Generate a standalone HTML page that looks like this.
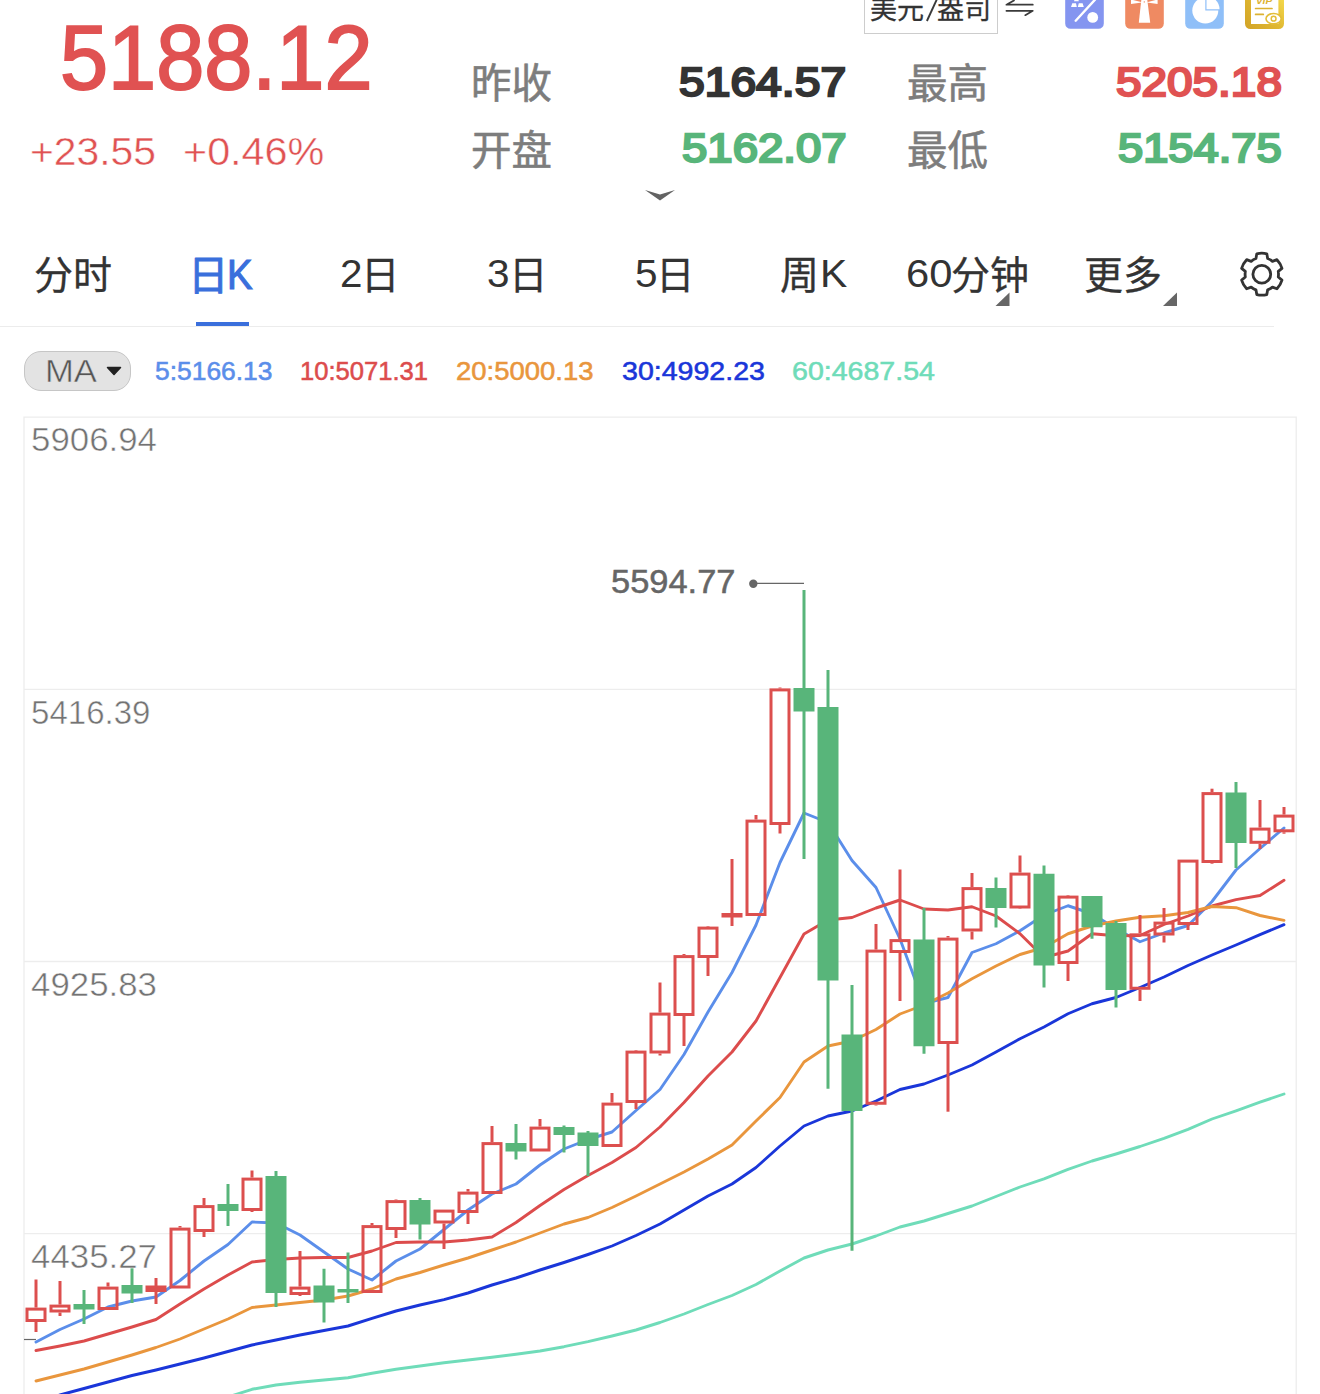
<!DOCTYPE html><html><head><meta charset="utf-8"><title>chart</title><style>
html,body{margin:0;padding:0;background:#fff}
body{width:1320px;height:1394px;overflow:hidden;position:relative;font-family:"Liberation Sans",sans-serif}
.t{position:absolute;white-space:nowrap;line-height:1;transform-origin:0 0}
.c{position:absolute;overflow:visible}
.b{position:absolute}
.k{font-family:"Liberation Sans","Noto Sans CJK SC",sans-serif}
</style></head><body><svg class="c" style="left:0;top:0" width="1320" height="1394" viewBox="0 0 1320 1394"><g stroke="#ededed" stroke-width="1.3" fill="none"><path d="M24 1394V417.2H1296.2V1394"/><path d="M24 689.3H1296"/><path d="M24 961.5H1296"/><path d="M24 1233.7H1296"/></g><path d="M24 1339.5H36" stroke="#666" stroke-width="1.2"/><path d="M36 1342 L60 1329.5 L84 1319 L108 1307 L132 1301 L156 1297 L180 1280.5 L204 1261 L228 1244.5 L252 1222 L276 1223 L300 1235 L324 1252 L348 1269 L372 1280 L396 1261 L420 1249 L444 1229.5 L468 1210 L492 1194 L516 1184 L540 1165 L564 1149 L588 1139.5 L612 1132 L636 1110.5 L660 1089.5 L684 1054.5 L708 1012 L732 972.5 L756 925 L780 862.5 L804 813 L828 822.5 L852 860.5 L876 887.5 L900 939 L924 1003.5 L948 997.5 L972 952.5 L996 943.75 L1020 930.75 L1044 915 L1068 905.75 L1092 913.75 L1116 928.75 L1140 941.75 L1164 933 L1188 925.5 L1212 901.5 L1236 870 L1260 848.5 L1284 828" fill="none" stroke="#5b8eea" stroke-width="2.9" stroke-linejoin="round" stroke-linecap="round"/><path d="M36 1350.5 L60 1346 L84 1341 L108 1334 L132 1327 L156 1319.5 L180 1304 L204 1289 L228 1275 L252 1262 L276 1259.5 L300 1258 L324 1257.5 L348 1257.5 L372 1251 L396 1242.5 L420 1242 L444 1242 L468 1240 L492 1237 L516 1222.5 L540 1205.5 L564 1189.5 L588 1175.5 L612 1162.5 L636 1147.5 L660 1127 L684 1102.5 L708 1076 L732 1052 L756 1021 L780 977.5 L804 934 L828 920 L852 917.5 L876 908 L900 900 L924 909 L948 910 L972 906.75 L996 916 L1020 933.75 L1044 957.5 L1068 951 L1092 933.75 L1116 935.75 L1140 935.5 L1164 924.5 L1188 916 L1212 906 L1236 899.6 L1260 895.5 L1284 880.3" fill="none" stroke="#dc4c4c" stroke-width="2.9" stroke-linejoin="round" stroke-linecap="round"/><path d="M36 1381 L60 1375 L84 1369 L108 1362 L132 1355 L156 1347.5 L180 1339 L204 1329 L228 1319 L252 1307.5 L276 1305 L300 1302.5 L324 1300 L348 1296 L372 1289 L396 1279 L420 1272.5 L444 1265 L468 1258 L492 1250 L516 1242 L540 1233 L564 1224 L588 1217.5 L612 1207.5 L636 1196 L660 1184 L684 1172 L708 1159 L732 1145 L756 1121 L780 1097.5 L804 1062 L828 1046 L852 1041 L876 1029.5 L900 1014 L924 1005 L948 993 L972 978.75 L996 966 L1020 954.5 L1044 947.5 L1068 933.75 L1092 926 L1116 921 L1140 917.3 L1164 915.8 L1188 912.5 L1212 906.5 L1236 907.7 L1260 915.5 L1284 920.3" fill="none" stroke="#e9963d" stroke-width="2.9" stroke-linejoin="round" stroke-linecap="round"/><path d="M36 1402 L60 1395 L84 1388.5 L108 1382 L132 1375.5 L156 1370 L180 1364 L204 1358 L228 1351.5 L252 1345 L276 1340 L300 1335 L324 1330.5 L348 1326 L372 1318.3 L396 1311 L420 1305 L444 1299.7 L468 1293 L492 1285 L516 1278 L540 1270 L564 1262.5 L588 1254.5 L612 1246 L636 1235.5 L660 1224 L684 1210 L708 1196 L732 1184 L756 1167.5 L780 1146 L804 1126 L828 1116 L852 1111 L876 1101 L900 1089.5 L924 1084 L948 1075 L972 1065 L996 1052 L1020 1038.75 L1044 1027 L1068 1013.75 L1092 1003.75 L1116 997.5 L1140 987.5 L1164 977 L1188 965.5 L1212 955 L1236 945 L1260 934.6 L1284 924.7" fill="none" stroke="#1a36d9" stroke-width="2.9" stroke-linejoin="round" stroke-linecap="round"/><path d="M204 1403 L228 1397 L252 1389.3 L276 1385 L300 1382.3 L324 1380 L348 1377.7 L372 1373.3 L396 1369.3 L420 1366 L444 1362.7 L468 1360 L492 1357.3 L516 1354.3 L540 1351 L564 1346.7 L588 1341.7 L612 1336 L636 1330 L660 1322.5 L684 1314 L708 1304.5 L732 1295.5 L756 1284.5 L780 1271 L804 1258 L828 1250 L852 1244 L876 1236 L900 1227 L924 1221 L948 1213.5 L972 1206 L996 1196.5 L1020 1187 L1044 1178.8 L1068 1169.3 L1092 1161 L1116 1154 L1140 1146.5 L1164 1138.3 L1188 1129.4 L1212 1119 L1236 1110.8 L1260 1102.2 L1284 1094" fill="none" stroke="#6fdcb9" stroke-width="2.9" stroke-linejoin="round" stroke-linecap="round"/><path d="M36 1279.5V1307.6" stroke="#dc4f4e" stroke-width="3"/><path d="M36 1322.0V1332" stroke="#dc4f4e" stroke-width="3"/><rect x="27" y="1309.1" width="18" height="11.400000000000091" fill="none" stroke="#dc4f4e" stroke-width="3"/><path d="M60 1281V1304.6" stroke="#dc4f4e" stroke-width="3"/><path d="M60 1312.5V1316" stroke="#dc4f4e" stroke-width="3"/><rect x="51" y="1306.1" width="18" height="4.900000000000091" fill="none" stroke="#dc4f4e" stroke-width="3"/><path d="M84 1290V1324" stroke="#58b57a" stroke-width="3"/><rect x="73.5" y="1304" width="21" height="5.5" fill="#58b57a"/><path d="M108 1282.5V1286.6" stroke="#dc4f4e" stroke-width="3"/><rect x="99" y="1288.1" width="18" height="20.40000000000009" fill="none" stroke="#dc4f4e" stroke-width="3"/><path d="M132 1268V1303" stroke="#58b57a" stroke-width="3"/><rect x="121.5" y="1285" width="21" height="8.5" fill="#58b57a"/><path d="M156 1278V1304" stroke="#dc4f4e" stroke-width="3"/><rect x="145.5" y="1285.5" width="21" height="6.5" fill="#dc4f4e"/><path d="M180 1226V1227.6" stroke="#dc4f4e" stroke-width="3"/><rect x="171" y="1229.1" width="18" height="57.90000000000009" fill="none" stroke="#dc4f4e" stroke-width="3"/><path d="M204 1198V1205.1" stroke="#dc4f4e" stroke-width="3"/><path d="M204 1232.0V1237" stroke="#dc4f4e" stroke-width="3"/><rect x="195" y="1206.6" width="18" height="23.90000000000009" fill="none" stroke="#dc4f4e" stroke-width="3"/><path d="M228 1184V1226" stroke="#58b57a" stroke-width="3"/><rect x="217.5" y="1204" width="21" height="7.0" fill="#58b57a"/><path d="M252 1170.5V1177.6" stroke="#dc4f4e" stroke-width="3"/><path d="M252 1211.0V1212" stroke="#dc4f4e" stroke-width="3"/><rect x="243" y="1179.1" width="18" height="30.40000000000009" fill="none" stroke="#dc4f4e" stroke-width="3"/><path d="M276 1171V1307" stroke="#58b57a" stroke-width="3"/><rect x="265.5" y="1176" width="21" height="117.0" fill="#58b57a"/><path d="M300 1251V1286.6" stroke="#dc4f4e" stroke-width="3"/><path d="M300 1295.0V1296" stroke="#dc4f4e" stroke-width="3"/><rect x="291" y="1288.1" width="18" height="5.400000000000091" fill="none" stroke="#dc4f4e" stroke-width="3"/><path d="M324 1268.75V1322.5" stroke="#58b57a" stroke-width="3"/><rect x="313.5" y="1285.5" width="21" height="17.0" fill="#58b57a"/><path d="M348 1252.5V1303" stroke="#58b57a" stroke-width="3"/><rect x="337.5" y="1289" width="21" height="3.5" fill="#58b57a"/><path d="M372 1223V1225.1" stroke="#dc4f4e" stroke-width="3"/><rect x="363" y="1226.6" width="18" height="64.90000000000009" fill="none" stroke="#dc4f4e" stroke-width="3"/><path d="M396 1199.5V1200.1" stroke="#dc4f4e" stroke-width="3"/><path d="M396 1230.0V1238" stroke="#dc4f4e" stroke-width="3"/><rect x="387" y="1201.6" width="18" height="26.90000000000009" fill="none" stroke="#dc4f4e" stroke-width="3"/><path d="M420 1198V1239.5" stroke="#58b57a" stroke-width="3"/><rect x="409.5" y="1200" width="21" height="24.5" fill="#58b57a"/><path d="M444 1223.5V1249" stroke="#dc4f4e" stroke-width="3"/><rect x="435" y="1211.1" width="18" height="10.900000000000091" fill="none" stroke="#dc4f4e" stroke-width="3"/><path d="M468 1189V1191.6" stroke="#dc4f4e" stroke-width="3"/><path d="M468 1213.0V1224" stroke="#dc4f4e" stroke-width="3"/><rect x="459" y="1193.1" width="18" height="18.40000000000009" fill="none" stroke="#dc4f4e" stroke-width="3"/><path d="M492 1126V1142.1" stroke="#dc4f4e" stroke-width="3"/><rect x="483" y="1143.6" width="18" height="48.90000000000009" fill="none" stroke="#dc4f4e" stroke-width="3"/><path d="M516 1124V1159.5" stroke="#58b57a" stroke-width="3"/><rect x="505.5" y="1143" width="21" height="8.5" fill="#58b57a"/><path d="M540 1119V1126.6" stroke="#dc4f4e" stroke-width="3"/><rect x="531" y="1128.1" width="18" height="21.90000000000009" fill="none" stroke="#dc4f4e" stroke-width="3"/><path d="M564 1125.5V1152.5" stroke="#58b57a" stroke-width="3"/><rect x="553.5" y="1127" width="21" height="8.0" fill="#58b57a"/><path d="M588 1131V1176" stroke="#58b57a" stroke-width="3"/><rect x="577.5" y="1132.5" width="21" height="13.5" fill="#58b57a"/><path d="M612 1093V1102.6" stroke="#dc4f4e" stroke-width="3"/><rect x="603" y="1104.1" width="18" height="41.40000000000009" fill="none" stroke="#dc4f4e" stroke-width="3"/><path d="M636 1050V1050.6" stroke="#dc4f4e" stroke-width="3"/><path d="M636 1103.0V1109" stroke="#dc4f4e" stroke-width="3"/><rect x="627" y="1052.1" width="18" height="49.40000000000009" fill="none" stroke="#dc4f4e" stroke-width="3"/><path d="M660 982.5V1012.6" stroke="#dc4f4e" stroke-width="3"/><path d="M660 1053.5V1055.5" stroke="#dc4f4e" stroke-width="3"/><rect x="651" y="1014.1" width="18" height="37.89999999999998" fill="none" stroke="#dc4f4e" stroke-width="3"/><path d="M684 954V955.1" stroke="#dc4f4e" stroke-width="3"/><path d="M684 1016.0V1046" stroke="#dc4f4e" stroke-width="3"/><rect x="675" y="956.6" width="18" height="57.89999999999998" fill="none" stroke="#dc4f4e" stroke-width="3"/><path d="M708 926V926.6" stroke="#dc4f4e" stroke-width="3"/><path d="M708 958.0V976" stroke="#dc4f4e" stroke-width="3"/><rect x="699" y="928.1" width="18" height="28.399999999999977" fill="none" stroke="#dc4f4e" stroke-width="3"/><path d="M732 859V926" stroke="#dc4f4e" stroke-width="3"/><rect x="721.5" y="913" width="21" height="4.5" fill="#dc4f4e"/><path d="M756 815V819.6" stroke="#dc4f4e" stroke-width="3"/><rect x="747" y="821.1" width="18" height="93.39999999999998" fill="none" stroke="#dc4f4e" stroke-width="3"/><path d="M780 687.5V688.4" stroke="#dc4f4e" stroke-width="3"/><path d="M780 825.0V833.5" stroke="#dc4f4e" stroke-width="3"/><rect x="771" y="689.9" width="18" height="133.60000000000002" fill="none" stroke="#dc4f4e" stroke-width="3"/><path d="M804 590V859" stroke="#58b57a" stroke-width="3"/><rect x="793.5" y="688" width="21" height="23.5" fill="#58b57a"/><path d="M828 670V1088.75" stroke="#58b57a" stroke-width="3"/><rect x="817.5" y="707" width="21" height="273.5" fill="#58b57a"/><path d="M852 985V1250.75" stroke="#58b57a" stroke-width="3"/><rect x="841.5" y="1034.5" width="21" height="76.5" fill="#58b57a"/><path d="M876 924V949.6" stroke="#dc4f4e" stroke-width="3"/><path d="M876 1104.75V1105.5" stroke="#dc4f4e" stroke-width="3"/><rect x="867" y="951.1" width="18" height="152.14999999999998" fill="none" stroke="#dc4f4e" stroke-width="3"/><path d="M900 869.5V939.1" stroke="#dc4f4e" stroke-width="3"/><path d="M900 953.0V1001" stroke="#dc4f4e" stroke-width="3"/><rect x="891" y="940.6" width="18" height="10.899999999999977" fill="none" stroke="#dc4f4e" stroke-width="3"/><path d="M924 908V1053.75" stroke="#58b57a" stroke-width="3"/><rect x="913.5" y="939.5" width="21" height="106.75" fill="#58b57a"/><path d="M948 936V937.6" stroke="#dc4f4e" stroke-width="3"/><path d="M948 1044.0V1111.7" stroke="#dc4f4e" stroke-width="3"/><rect x="939" y="939.1" width="18" height="103.39999999999998" fill="none" stroke="#dc4f4e" stroke-width="3"/><path d="M972 873V887.1" stroke="#dc4f4e" stroke-width="3"/><path d="M972 931.5V939.5" stroke="#dc4f4e" stroke-width="3"/><rect x="963" y="888.6" width="18" height="41.39999999999998" fill="none" stroke="#dc4f4e" stroke-width="3"/><path d="M996 877.5V927.5" stroke="#58b57a" stroke-width="3"/><rect x="985.5" y="888" width="21" height="20.0" fill="#58b57a"/><path d="M1020 855.5V872.6" stroke="#dc4f4e" stroke-width="3"/><path d="M1020 908.5V909" stroke="#dc4f4e" stroke-width="3"/><rect x="1011" y="874.1" width="18" height="32.89999999999998" fill="none" stroke="#dc4f4e" stroke-width="3"/><path d="M1044 865.5V987.5" stroke="#58b57a" stroke-width="3"/><rect x="1033.5" y="873.75" width="21" height="91.75" fill="#58b57a"/><path d="M1068 895V895.6" stroke="#dc4f4e" stroke-width="3"/><path d="M1068 964.0V981" stroke="#dc4f4e" stroke-width="3"/><rect x="1059" y="897.1" width="18" height="65.39999999999998" fill="none" stroke="#dc4f4e" stroke-width="3"/><path d="M1092 896V938.75" stroke="#58b57a" stroke-width="3"/><rect x="1081.5" y="896" width="21" height="31.25" fill="#58b57a"/><path d="M1116 921V1007.5" stroke="#58b57a" stroke-width="3"/><rect x="1105.5" y="923" width="21" height="67.0" fill="#58b57a"/><path d="M1140 915V933.35" stroke="#dc4f4e" stroke-width="3"/><path d="M1140 989.75V1001" stroke="#dc4f4e" stroke-width="3"/><rect x="1131" y="934.85" width="18" height="53.39999999999998" fill="none" stroke="#dc4f4e" stroke-width="3"/><path d="M1164 908V921.6" stroke="#dc4f4e" stroke-width="3"/><path d="M1164 935.5V942.5" stroke="#dc4f4e" stroke-width="3"/><rect x="1155" y="923.1" width="18" height="10.899999999999977" fill="none" stroke="#dc4f4e" stroke-width="3"/><path d="M1188 925.0V930" stroke="#dc4f4e" stroke-width="3"/><rect x="1179" y="861.1" width="18" height="62.39999999999998" fill="none" stroke="#dc4f4e" stroke-width="3"/><path d="M1212 788.7V792.1" stroke="#dc4f4e" stroke-width="3"/><path d="M1212 863.0V863.7" stroke="#dc4f4e" stroke-width="3"/><rect x="1203" y="793.6" width="18" height="67.89999999999998" fill="none" stroke="#dc4f4e" stroke-width="3"/><path d="M1236 782V868" stroke="#58b57a" stroke-width="3"/><rect x="1225.5" y="792.5" width="21" height="50.5" fill="#58b57a"/><path d="M1260 800V827.6" stroke="#dc4f4e" stroke-width="3"/><path d="M1260 843.8V849" stroke="#dc4f4e" stroke-width="3"/><rect x="1251" y="829.1" width="18" height="13.199999999999932" fill="none" stroke="#dc4f4e" stroke-width="3"/><path d="M1284 807V814.6" stroke="#dc4f4e" stroke-width="3"/><path d="M1284 832.3V833.7" stroke="#dc4f4e" stroke-width="3"/><rect x="1275" y="816.1" width="18" height="14.699999999999932" fill="none" stroke="#dc4f4e" stroke-width="3"/><circle cx="753.3" cy="583.7" r="4.2" fill="#666"/><path d="M753 583.4H804" stroke="#666" stroke-width="1.2"/></svg><div class="t" style="left:60.44px;top:12.41px;font-size:91.29px;color:#e05252;transform:scaleX(0.947);-webkit-text-stroke:2.0px #e05252">5188.12</div><div class="t" style="left:29.80px;top:132.63px;font-size:38.83px;color:#e05252;transform:scaleX(1.0514);-webkit-text-stroke:0.45px #fff;">+23.55</div><div class="t" style="left:182.60px;top:132.63px;font-size:38.83px;color:#e05252;transform:scaleX(1.0643);-webkit-text-stroke:0.45px #fff;">+0.46%</div><svg class="c" style="left:470.80px;top:62.20px;" width="81.00" height="40.50" viewBox="0 -880 2000 1000" fill="#7d7d7d" stroke="#7d7d7d" stroke-width="14" stroke-linejoin="round"><text x="0" y="0" font-size="1000" font-family="&quot;Liberation Sans&quot;,&quot;Noto Sans CJK SC&quot;,sans-serif">昨收</text></svg><svg class="c" style="left:470.80px;top:128.70px;" width="81.00" height="40.50" viewBox="0 -880 2000 1000" fill="#7d7d7d" stroke="#7d7d7d" stroke-width="14" stroke-linejoin="round"><text x="0" y="0" font-size="1000" font-family="&quot;Liberation Sans&quot;,&quot;Noto Sans CJK SC&quot;,sans-serif">开盘</text></svg><svg class="c" style="left:906.60px;top:62.20px;" width="81.00" height="40.50" viewBox="0 -880 2000 1000" fill="#7d7d7d" stroke="#7d7d7d" stroke-width="14" stroke-linejoin="round"><text x="0" y="0" font-size="1000" font-family="&quot;Liberation Sans&quot;,&quot;Noto Sans CJK SC&quot;,sans-serif">最高</text></svg><svg class="c" style="left:906.60px;top:128.70px;" width="81.00" height="40.50" viewBox="0 -880 2000 1000" fill="#7d7d7d" stroke="#7d7d7d" stroke-width="14" stroke-linejoin="round"><text x="0" y="0" font-size="1000" font-family="&quot;Liberation Sans&quot;,&quot;Noto Sans CJK SC&quot;,sans-serif">最低</text></svg><div class="t" style="left:679.33px;top:61.91px;font-size:40.55px;color:#333;transform:scaleX(1.14);-webkit-text-stroke:2.3px #333">5164.57</div><div class="t" style="left:681.73px;top:127.94px;font-size:40.41px;color:#58b57a;transform:scaleX(1.127);-webkit-text-stroke:2.3px #58b57a">5162.07</div><div class="t" style="left:1115.72px;top:61.91px;font-size:40.55px;color:#e05252;transform:scaleX(1.132);-webkit-text-stroke:2.3px #e05252">5205.18</div><div class="t" style="left:1117.73px;top:127.94px;font-size:40.41px;color:#58b57a;transform:scaleX(1.12);-webkit-text-stroke:2.3px #58b57a">5154.75</div><svg class="c" style="left:640px;top:185px" width="40" height="20" viewBox="640 185 40 20"><path d="M645 190.1L660 194.4L675 190.1L660 200.6Z" fill="#636363"/></svg><div class="b" style="left:863.6px;top:-10px;width:134.6px;height:43.6px;border:1.5px solid #cdcdcd;box-sizing:border-box;background:#fff"></div><svg class="c" style="left:870.00px;top:-4.80px;" width="54.00" height="27.00" viewBox="0 -880 2000 1000" fill="#333" stroke="#333" stroke-width="10" stroke-linejoin="round"><text x="0" y="0" font-size="1000" font-family="&quot;Liberation Sans&quot;,&quot;Noto Sans CJK SC&quot;,sans-serif">美元</text></svg><svg class="c" style="left:937.40px;top:-4.80px;" width="54.00" height="27.00" viewBox="0 -880 2000 1000" fill="#333" stroke="#333" stroke-width="10" stroke-linejoin="round"><text x="0" y="0" font-size="1000" font-family="&quot;Liberation Sans&quot;,&quot;Noto Sans CJK SC&quot;,sans-serif">盎司</text></svg><svg class="c" style="left:900px;top:0" width="150" height="30" viewBox="900 0 150 30"><g fill="none" stroke="#3a3a3a" stroke-linecap="round" stroke-linejoin="round"><path d="M926.9 21L938.2 -3.6" stroke-width="1.9" stroke-linecap="butt"/><path d="M1032.8 4.7H1006.4L1014 0.4" stroke-width="1.7"/><path d="M1006.4 10.8H1032.8L1025.3 15.2" stroke-width="1.7"/></g></svg><div class="b" style="left:1245.2px;top:-2px;width:38.6px;height:30.7px;border-radius:0 0 5.3px 5.3px;background:linear-gradient(50deg,#d2a326 0%,#e0b832 55%,#f5da4c 100%)"></div><svg class="c" style="left:1060px;top:0" width="230" height="34" viewBox="1060 0 230 34"><path d="M1065.2 -2H1103.8V23.4a5.3 5.3 0 0 1 -5.3 5.3H1070.5a5.3 5.3 0 0 1 -5.3 -5.3Z" fill="#8495f0"/><path d="M1075.7 20.7L1095 -0.3" stroke="#fff" stroke-width="2.4" stroke-linecap="round"/><circle cx="1092.7" cy="17.4" r="5.4" fill="#fff"/><path d="M1071 7.1L1072.3 3.3H1076L1076.8 7.1Z M1077.8 7.1L1078.8 3.3H1082.6L1083.8 7.1Z M1074 1.3L1075 -2H1078L1078.8 1.3Z" fill="#fff"/><path d="M1125.2 -2H1163.8V23.4a5.3 5.3 0 0 1 -5.3 5.3H1130.5a5.3 5.3 0 0 1 -5.3 -5.3Z" fill="#ef8a62"/><path d="M1141.4 -1H1147.2L1150.2 22.8H1138.8Z" fill="#fff"/><path d="M1142 2.2L1131 -0.5V4L1142 2.4Z M1147 2.2L1157.6 -0.5V4L1147 2.4Z" fill="#fff"/><circle cx="1144.3" cy="1.9" r="0.7" fill="#ef8a62"/><path d="M1185.2 -2H1223.8V23.4a5.3 5.3 0 0 1 -5.3 5.3H1190.5a5.3 5.3 0 0 1 -5.3 -5.3Z" fill="#8fbff8"/><circle cx="1205.3" cy="10.5" r="13" fill="#fff"/><path d="M1205.3 -3H1220V10.5H1205.3Z" fill="#8fbff8"/><path d="M1206.5 9.3V-3.7A13 13 0 0 1 1219.5 9.3Z" fill="#fff"/><path d="M1251 -2H1278.4V24H1251Z" fill="#fff"/><g stroke="#dcb232" stroke-width="1.7" stroke-linecap="round"><path d="M1255.6 8.5H1272"/><path d="M1255.6 14.4H1263.3"/></g><text x="1256" y="4.0" font-weight="bold" font-style="italic" font-size="9.5" fill="#dcb232" textLength="16" lengthAdjust="spacingAndGlyphs">VIP</text><ellipse cx="1273.6" cy="18.7" rx="7.6" ry="5.2" fill="#fff" stroke="#e3bd38" stroke-width="1.6"/><circle cx="1273.6" cy="18.7" r="2.4" fill="#fff" stroke="#e3bd38" stroke-width="1.5"/></svg><svg class="c" style="left:34.20px;top:254.70px;" width="78.00" height="39.00" viewBox="0 -880 2000 1000" fill="#333" stroke="#333" stroke-width="8" stroke-linejoin="round"><text x="0" y="0" font-size="1000" font-family="&quot;Liberation Sans&quot;,&quot;Noto Sans CJK SC&quot;,sans-serif">分时</text></svg><svg class="c" style="left:187.50px;top:253.50px;" width="40.50" height="40.50" viewBox="0 -880 1000 1000" fill="#3a6fdc" stroke="#3a6fdc" stroke-width="22" stroke-linejoin="round"><text x="0" y="0" font-size="1000" font-family="&quot;Liberation Sans&quot;,&quot;Noto Sans CJK SC&quot;,sans-serif">日</text></svg><div class="t" style="left:226.80px;top:253.73px;font-size:41.90px;color:#3a6fdc;transform:scaleX(0.9160);-webkit-text-stroke:1.1px #3a6fdc;">K</div><div class="t" style="left:339.70px;top:254.85px;font-size:38.69px;color:#333;transform:scaleX(1.0457);">2</div><svg class="c" style="left:361.40px;top:254.90px;" width="38.50" height="38.50" viewBox="0 -880 1000 1000" fill="#333" stroke="#333" stroke-width="8" stroke-linejoin="round"><text x="0" y="0" font-size="1000" font-family="&quot;Liberation Sans&quot;,&quot;Noto Sans CJK SC&quot;,sans-serif">日</text></svg><div class="t" style="left:487.20px;top:254.85px;font-size:38.69px;color:#333;transform:scaleX(1.0457);">3</div><svg class="c" style="left:508.90px;top:254.90px;" width="38.50" height="38.50" viewBox="0 -880 1000 1000" fill="#333" stroke="#333" stroke-width="8" stroke-linejoin="round"><text x="0" y="0" font-size="1000" font-family="&quot;Liberation Sans&quot;,&quot;Noto Sans CJK SC&quot;,sans-serif">日</text></svg><div class="t" style="left:634.70px;top:254.85px;font-size:38.69px;color:#333;transform:scaleX(1.0457);">5</div><svg class="c" style="left:656.40px;top:254.90px;" width="38.50" height="38.50" viewBox="0 -880 1000 1000" fill="#333" stroke="#333" stroke-width="8" stroke-linejoin="round"><text x="0" y="0" font-size="1000" font-family="&quot;Liberation Sans&quot;,&quot;Noto Sans CJK SC&quot;,sans-serif">日</text></svg><svg class="c" style="left:780.20px;top:254.70px;" width="39.00" height="39.00" viewBox="0 -880 1000 1000" fill="#333" stroke="#333" stroke-width="8" stroke-linejoin="round"><text x="0" y="0" font-size="1000" font-family="&quot;Liberation Sans&quot;,&quot;Noto Sans CJK SC&quot;,sans-serif">周</text></svg><div class="t" style="left:820.00px;top:254.99px;font-size:38.41px;color:#333;transform:scaleX(1.0657);">K</div><div class="t" style="left:906.30px;top:254.85px;font-size:38.69px;color:#333;transform:scaleX(1.0783);">60</div><svg class="c" style="left:951.00px;top:254.70px;" width="78.00" height="39.00" viewBox="0 -880 2000 1000" fill="#333" stroke="#333" stroke-width="8" stroke-linejoin="round"><text x="0" y="0" font-size="1000" font-family="&quot;Liberation Sans&quot;,&quot;Noto Sans CJK SC&quot;,sans-serif">分钟</text></svg><svg class="c" style="left:1084.00px;top:254.70px;" width="78.00" height="39.00" viewBox="0 -880 2000 1000" fill="#333" stroke="#333" stroke-width="8" stroke-linejoin="round"><text x="0" y="0" font-size="1000" font-family="&quot;Liberation Sans&quot;,&quot;Noto Sans CJK SC&quot;,sans-serif">更多</text></svg><svg class="c" style="left:0;top:0" width="1320" height="340" viewBox="0 0 1320 340"><path d="M1009.5 292.5V306H995.5Z" fill="#666"/><path d="M1177 292.5V306H1163Z" fill="#666"/></svg><div class="b" style="left:196px;top:321.5px;width:52.5px;height:4px;background:#3a6fdc"></div><div class="b" style="left:0;top:325.5px;width:1274px;height:1.5px;background:#ececec"></div><svg class="c" style="left:0;top:0" width="1320" height="340" viewBox="0 0 1320 340"><g fill="none" stroke="#333" stroke-width="2.8" stroke-linejoin="round"><path d="M1255.95 258.56L1256.79 253.81A21.0 21.0 0 0 1 1266.81 253.81L1267.65 258.56A16.7 16.7 0 0 1 1272.42 261.31L1276.96 259.66A21.0 21.0 0 0 1 1281.97 268.34L1278.27 271.44A16.7 16.7 0 0 1 1278.27 276.96L1281.97 280.06A21.0 21.0 0 0 1 1276.96 288.74L1272.42 287.09A16.7 16.7 0 0 1 1267.65 289.84L1266.81 294.59A21.0 21.0 0 0 1 1256.79 294.59L1255.95 289.84A16.7 16.7 0 0 1 1251.18 287.09L1246.64 288.74A21.0 21.0 0 0 1 1241.63 280.06L1245.33 276.96A16.7 16.7 0 0 1 1245.33 271.44L1241.63 268.34A21.0 21.0 0 0 1 1246.64 259.66L1251.18 261.31A16.7 16.7 0 0 1 1255.95 258.56Z"/><circle cx="1261.8" cy="274.2" r="8.9"/></g></svg><div class="b" style="left:24px;top:351px;width:107px;height:39.5px;box-sizing:border-box;background:#e3e3e3;border:1.5px solid #c6c6c6;border-radius:17px"></div><div class="t" style="left:45.00px;top:355.31px;font-size:32.12px;color:#555;transform:scaleX(1.0792);-webkit-text-stroke:0.5px #e3e3e3;">MA</div><svg class="c" style="left:106px;top:366px" width="16" height="10" viewBox="0 0 16 10"><path d="M1.5 1.5H14.5L8 8.5Z" fill="#222" stroke="#222" stroke-width="1.5" stroke-linejoin="round"/></svg><div class="t" style="left:155.00px;top:359.13px;font-size:25.84px;color:#5b8eea;transform:scaleX(1.0222);-webkit-text-stroke:0.55px #5b8eea;">5:5166.13</div><div class="t" style="left:300.00px;top:359.13px;font-size:25.84px;color:#dc4c4c;transform:scaleX(0.9898);-webkit-text-stroke:0.55px #dc4c4c;">10:5071.31</div><div class="t" style="left:456.00px;top:359.13px;font-size:25.84px;color:#e9963d;transform:scaleX(1.0633);-webkit-text-stroke:0.55px #e9963d;">20:5000.13</div><div class="t" style="left:622.00px;top:359.13px;font-size:25.84px;color:#1a36d9;transform:scaleX(1.1058);-webkit-text-stroke:0.55px #1a36d9;">30:4992.23</div><div class="t" style="left:792.00px;top:359.13px;font-size:25.84px;color:#6fdcb9;transform:scaleX(1.1058);-webkit-text-stroke:0.55px #6fdcb9;">60:4687.54</div><div class="t" style="left:30.70px;top:424.22px;font-size:32.82px;color:#737373;transform:scaleX(1.0620);-webkit-text-stroke:0.5px #fff;">5906.94</div><div class="t" style="left:30.70px;top:696.52px;font-size:32.82px;color:#737373;transform:scaleX(1.0072);-webkit-text-stroke:0.5px #fff;">5416.39</div><div class="t" style="left:30.70px;top:968.72px;font-size:32.82px;color:#737373;transform:scaleX(1.0620);-webkit-text-stroke:0.5px #fff;">4925.83</div><div class="t" style="left:30.70px;top:1240.92px;font-size:32.82px;color:#737373;transform:scaleX(1.0620);-webkit-text-stroke:0.5px #fff;">4435.27</div><div class="t" style="left:610.60px;top:565.95px;font-size:32.54px;color:#666;transform:scaleX(1.0584);-webkit-text-stroke:0.5px #666;">5594.77</div></body></html>
